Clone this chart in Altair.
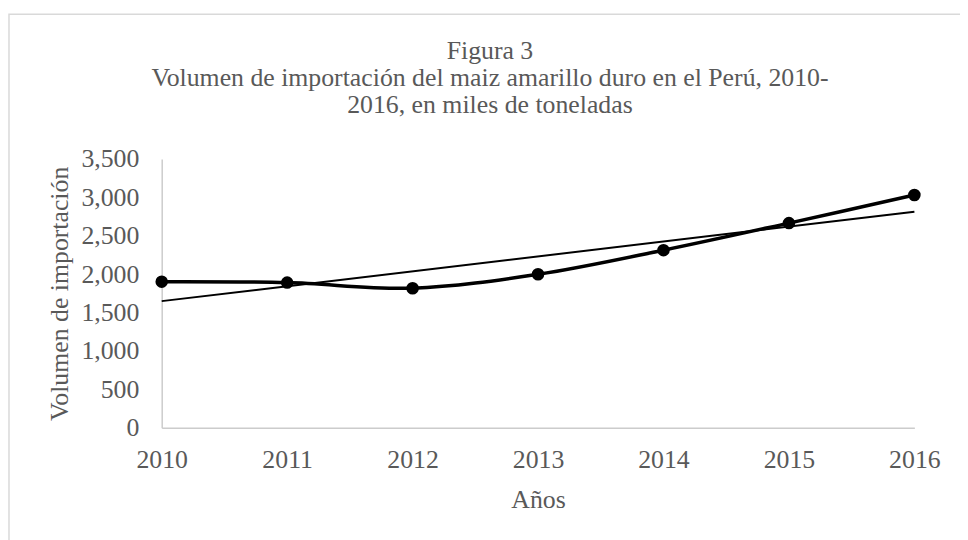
import altair as alt
import pandas as pd

years = [2010, 2011, 2012, 2013, 2014, 2015, 2016]
volumen = [1902, 1890, 1817, 1998, 2312, 2665, 3031]
title_lines = ["Figura 3",
               "Volumen de importación del maiz amarillo duro en el Perú, 2010-",
               "2016, en miles de toneladas"]

df = pd.DataFrame({"year": years, "vol": volumen})

FONT = "Liberation Serif"
GRAY = "#595959"
FS = 26

x = alt.X("year:Q", title="Años",
          scale=alt.Scale(domain=[2010, 2016], nice=False, zero=False),
          axis=alt.Axis(values=years, format="d", ticks=False, grid=False,
                        labelFlush=False, labelOverlap=False,
                        labelFontSize=FS, labelPadding=19, titleFontSize=FS,
                        titlePadding=14, domainColor="#cccccc", domainWidth=1.5))
y = alt.Y("vol:Q", title="Volumen de importación",
          scale=alt.Scale(domain=[0, 3500], nice=False),
          axis=alt.Axis(values=list(range(0, 3501, 500)), format=",.0f", ticks=False,
                        grid=False, labelFontSize=FS, labelPadding=23,
                        labelFlush=False, labelOverlap=False,
                        titleFontSize=FS, titlePadding=8,
                        domainColor="#cccccc", domainWidth=1.5))

base = alt.Chart(df)
one = base.transform_filter("datum.year == 2010")

frame = one.mark_rect(fill=None, stroke="#d9d9d9", strokeWidth=1.5).encode(
    x=alt.value(-154), x2=alt.value(830), y=alt.value(-146), y2=alt.value(400)
)

title = one.mark_text(text=title_lines, font=FONT, fontSize=FS, color=GRAY,
                      lineHeight=27.5, align="center", baseline="alphabetic").encode(
    x=alt.value(331), y=alt.value(-101)
)

line = base.mark_line(color="black", strokeWidth=3.5, interpolate="catmull-rom").encode(x=x, y=y)
pts = base.mark_circle(color="black", size=160, opacity=1).encode(x=x, y=y)
trend = base.transform_regression("year", "vol", method="linear").mark_line(
    color="black", strokeWidth=2).encode(x=x, y=y)

chart = alt.layer(frame, trend, line, pts, title).properties(
    width=759, height=271,
    autosize=alt.AutoSizeParams(type="none"),
    padding={"left": 155, "top": 150, "right": 46, "bottom": 111},
).configure_view(stroke=None).configure_axis(
    labelFont=FONT, titleFont=FONT, labelColor=GRAY, titleColor=GRAY,
    titleFontWeight="normal"
)

chart.save("out.html", embed_options={"renderer": "svg", "actions": False})
